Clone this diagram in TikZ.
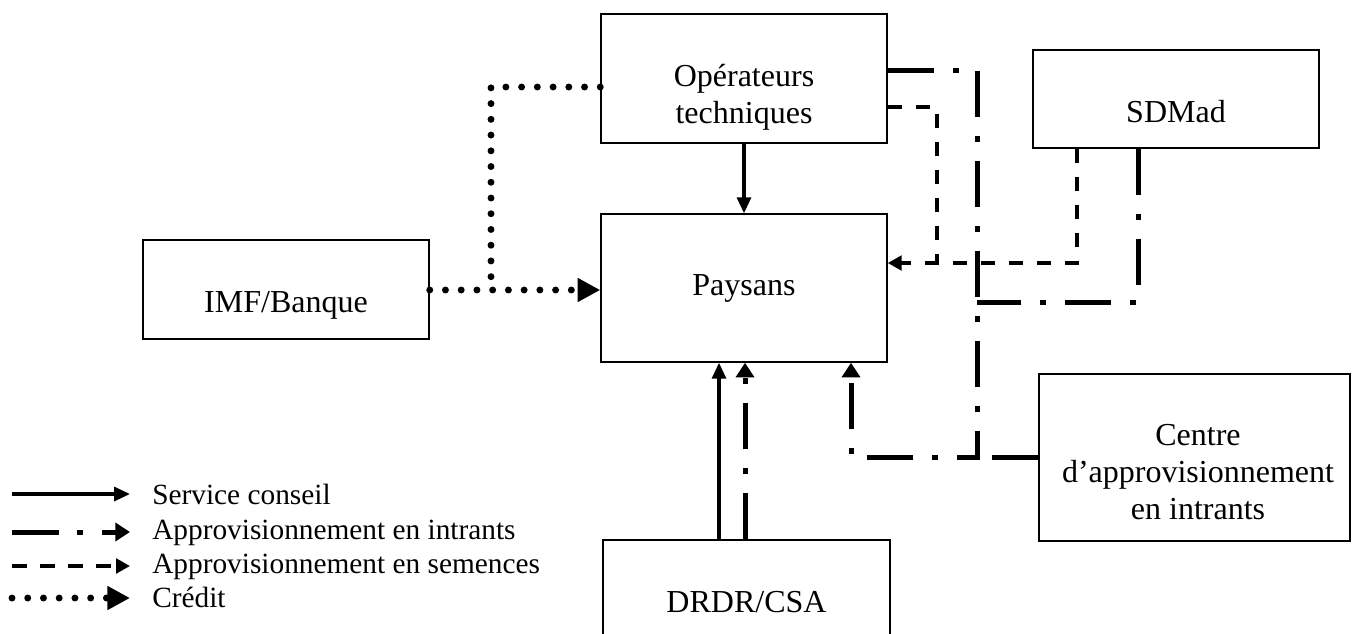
\documentclass[tikz,border=0pt]{standalone}
\usepackage{fontspec}
\setmainfont{Liberation Serif}
\usetikzlibrary{arrows.meta}
\begin{document}
\begin{tikzpicture}[x=0.75pt,y=-0.75pt,
  box/.style={draw, line width=1.1pt, inner sep=0pt},
  txt/.style={font=\fontsize{24}{27.75}\selectfont, align=center, inner sep=0pt},
  lg/.style={font=\fontsize{22}{26}\selectfont, inner sep=0pt},
  svc/.style={line width=2.4pt, -{Triangle[length=12pt,width=10.5pt]}},
  inp/.style={line width=3.75pt, dash pattern=on 35pt off 14pt on 4.5pt off 14pt},
  inptip/.style={-{Triangle[length=11pt,width=13.5pt]}},
  sem/.style={line width=2.4pt, dash pattern=on 11pt off 10pt},
  semtip/.style={-{Triangle[length=10.5pt,width=11pt]}},
  cred/.style={line width=5.2pt, line cap=round, dash pattern=on 0pt off 11.8pt},
  credtip/.style={-{Triangle[length=17pt,width=17pt]}}]
\useasboundingbox (0,0) rectangle (1352,633);

% boxes
\node[box, minimum width=214.5pt, minimum height=96.75pt] (op) at (744,78.5) {};
\node[box, minimum width=214.5pt, minimum height=111pt] (pay) at (744,288) {};
\node[box, minimum width=214.5pt, minimum height=74.25pt] (imf) at (286,289.5) {};
\node[box, minimum width=214.5pt, minimum height=73.5pt] (sdm) at (1176,99) {};
\node[box, minimum width=233.25pt, minimum height=125.25pt] (ctr) at (1194.5,457.5) {};
\node[box, minimum width=215.25pt, minimum height=75pt] (drdr) at (746.5,590) {};

% texts
\node[txt] (opt) at (744,97) {Opérateurs\\techniques};
\node[txt, anchor=base] (payt) at (744,295) {Paysans};
\node[txt, anchor=base] (imft) at (286,312) {IMF/Banque};
\node[txt, anchor=base] (sdmt) at (1176,122) {SDMad};
\node[txt] (ctrt) at (1198,472) {Centre\\d’approvisionnement\\en intrants};
\node[txt, anchor=base] (drdrt) at (746.5,612) {DRDR/CSA};

% connectors
\draw[svc] (op.south) -- (pay.north);
\draw[svc] (drdr.north -| 719,0) -- (pay.south -| 719,0);
\draw[inp, inptip] (drdr.north -| 745,0) -- (pay.south -| 745,0);
\draw[cred, credtip] (imf.east |- 0,290) -- (pay.west |- 0,290);
\draw[cred] (op.west |- 0,87) -- (491,87) -- (491,290);
\draw[sem, semtip] (sdm.south -| 1077,0) -- (1077,263) -- (pay.east |- 0,263);
\draw[sem] (op.east |- 0,107) -- (937,107) -- (937,263);
\draw[inp, inptip] (op.east |- 0,70) -- (977,70) -- (977,457) -- (851,457) -- (pay.south -| 851,0);
\draw[inp] (sdm.south -| 1138,0) -- (1138,302) -- (977,302);
\draw[inp] (ctr.west |- 0,457) -- (977,457);

% legend
\node[lg, anchor=base west] (l1) at (152,504) {Service conseil};
\node[lg, anchor=base west] (l2) at (152,539) {Approvisionnement en intrants};
\node[lg, anchor=base west] (l3) at (152,573) {Approvisionnement en semences};
\node[lg, anchor=base west] (l4) at (152,607) {Crédit};
\coordinate (a1) at (12,494); \coordinate (b1) at (130,494);
\coordinate (a2) at (12,532); \coordinate (b2) at (130,532);
\coordinate (a3) at (12,566); \coordinate (b3) at (130,566);
\coordinate (a4) at (12,598); \coordinate (b4) at (130,598);
\draw[svc] (a1) -- (b1);
\draw[inp, inptip] (a2) -- (b2);
\draw[sem, semtip] (a3) -- (b3);
\draw[cred, credtip] (a4) -- (b4);
\end{tikzpicture}
\end{document}
